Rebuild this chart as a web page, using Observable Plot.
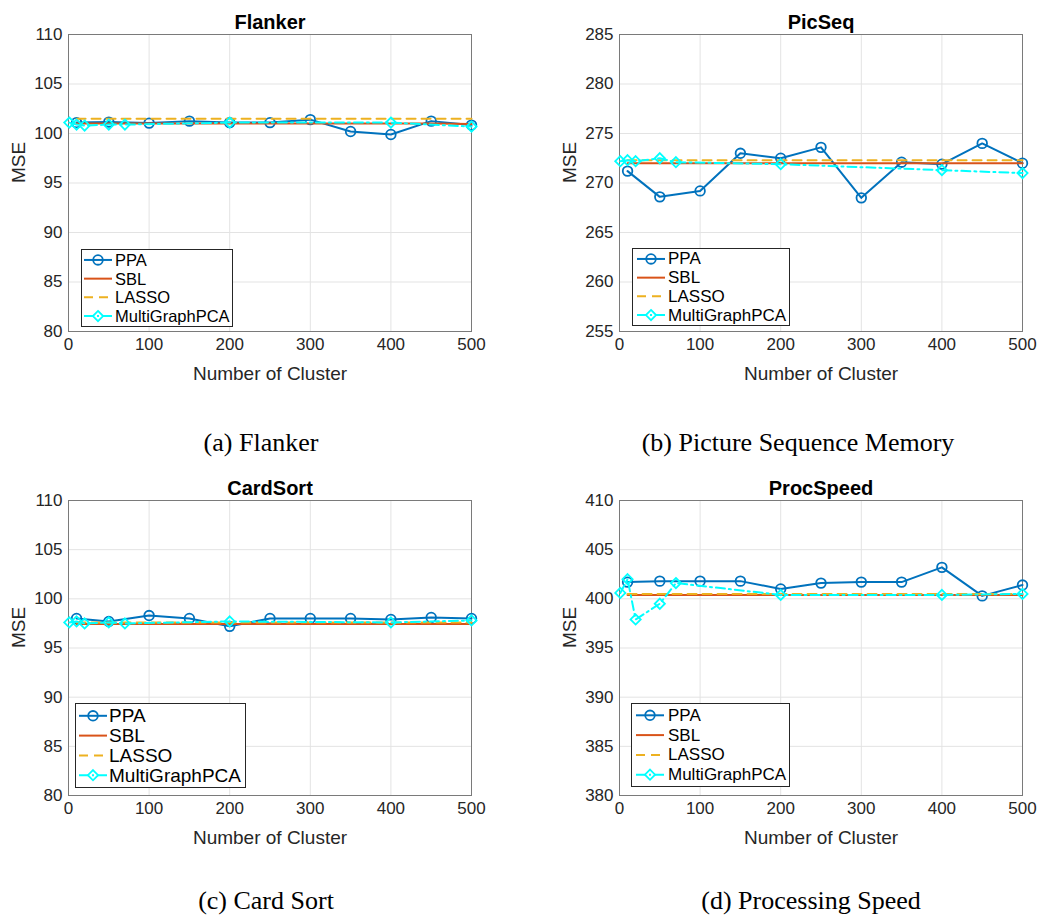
<!DOCTYPE html>
<html><head><meta charset="utf-8">
<script src="https://cdn.jsdelivr.net/npm/d3@7"></script>
<script src="https://cdn.jsdelivr.net/npm/@observablehq/plot@0.6"></script>
<style>
html,body{margin:0;padding:0;background:#fff;}
#fig{position:relative;width:1037px;height:918px;overflow:hidden;background:#fff;}
.panel,.legend{position:absolute;}
</style></head><body><div id="fig"></div>
<script>
// ---- data ----
const xTicks = [0, 100, 200, 300, 400, 500];
const ppaX = [10, 50, 100, 150, 200, 250, 300, 350, 400, 450, 500];
const mgX = [1, 10, 20, 50, 70, 200, 400, 500];
const seriesNames = ["PPA", "SBL", "LASSO", "MultiGraphPCA"];
const titles = ["Flanker", "PicSeq", "CardSort", "ProcSpeed"];
const captions = ["(a) Flanker", "(b) Picture Sequence Memory", "(c) Card Sort", "(d) Processing Speed"];
const xLabel = "Number of Cluster";
const yLabel = "MSE";

const flankerTicks = [80, 85, 90, 95, 100, 105, 110];
const flankerPPA = [101.1, 101.15, 101.05, 101.25, 101.1, 101.1, 101.4, 100.2, 99.9, 101.25, 100.85];
const flankerSBL = [101.0, 101.0, 101.0, 101.0, 101.0, 101.0, 101.0, 101.0, 101.0, 101.0, 100.95];
const flankerLASSO = [101.5, 101.5, 101.5, 101.5, 101.5, 101.5, 101.5, 101.5, 101.5, 101.5, 101.5];
const flankerMG = [101.1, 100.9, 100.8, 100.9, 100.9, 101.1, 101.1, 100.7];

const picseqTicks = [255, 260, 265, 270, 275, 280, 285];
const picseqPPA = [271.2, 268.6, 269.2, 273.0, 272.5, 273.6, 268.5, 272.1, 271.9, 274.0, 272.0];
const picseqSBL = [272.0, 272.0, 272.0, 272.0, 272.0, 272.0, 272.0, 272.0, 272.0, 272.0, 272.0];
const picseqLASSO = [272.3, 272.3, 272.3, 272.3, 272.3, 272.3, 272.3, 272.3, 272.3, 272.3, 272.3];
const picseqMG = [272.2, 272.3, 272.2, 272.5, 272.1, 271.9, 271.3, 271.0];

const cardTicks = [80, 85, 90, 95, 100, 105, 110];
const cardPPA = [98.0, 97.7, 98.3, 98.0, 97.2, 98.0, 98.0, 98.0, 97.9, 98.1, 98.0];
const cardSBL = [97.45, 97.45, 97.45, 97.45, 97.45, 97.45, 97.45, 97.45, 97.45, 97.45, 97.45];
const cardLASSO = [97.6, 97.6, 97.6, 97.6, 97.6, 97.6, 97.6, 97.6, 97.6, 97.6, 97.6];
const cardMG = [97.6, 97.7, 97.5, 97.6, 97.5, 97.7, 97.6, 97.8];

const procTicks = [380, 385, 390, 395, 400, 405, 410];
const procPPA = [401.7, 401.8, 401.8, 401.8, 401.0, 401.6, 401.7, 401.7, 403.2, 400.3, 401.4];
const procSBL = [400.4, 400.4, 400.4, 400.4, 400.4, 400.4, 400.4, 400.4, 400.4, 400.4, 400.4];
const procLASSO = [400.5, 400.5, 400.5, 400.5, 400.5, 400.5, 400.5, 400.5, 400.5, 400.5, 400.5];
const procMG = [400.6, 402.0, 397.9, 399.5, 401.6, 400.4, 400.4, 400.5];

// ---- styles ----
const COLORS = {PPA: "#0072BD", SBL: "#D95319", LASSO: "#EDB120", MG: "#00FFFF"};
const SANS = "'Liberation Sans', Arial, Helvetica, sans-serif";
const SERIF = "'Liberation Serif', 'Times New Roman', serif";

const panels = [
  {ticks: flankerTicks, ppa: flankerPPA, sbl: flankerSBL, lasso: flankerLASSO, mg: flankerMG,
   left: 0, top: 0, width: 518, mL: 68, mR: 47, mT: 34, mB: 128, capDx: -9, capDy: 111,
   legend: {left: 81, top: 249, w: 152, h: 78, fs: 16.5, rowH: 18.7, s0: 3, s1: 31, tx: 34}},
  {ticks: picseqTicks, ppa: picseqPPA, sbl: picseqSBL, lasso: picseqLASSO, mg: picseqMG,
   left: 518, top: 0, width: 519, mL: 101, mR: 15, mT: 34, mB: 128, capDx: -23, capDy: 111,
   legend: {left: 632, top: 248, w: 158, h: 78, fs: 17, rowH: 18.7, s0: 5, s1: 33, tx: 36}},
  {ticks: cardTicks, ppa: cardPPA, sbl: cardSBL, lasso: cardLASSO, mg: cardMG,
   left: 0, top: 459, width: 518, mL: 68, mR: 47, mT: 41, mB: 123, capDx: -4, capDy: 105,
   legend: {left: 75, top: 703, w: 171, h: 85, fs: 19, rowH: 19.8, s0: 4, s1: 32, tx: 34}},
  {ticks: procTicks, ppa: procPPA, sbl: procSBL, lasso: procLASSO, mg: procMG,
   left: 518, top: 459, width: 519, mL: 101, mR: 15, mT: 41, mB: 123, capDx: -10, capDy: 105,
   legend: {left: 631, top: 703, w: 159, h: 84, fs: 17, rowH: 19.8, s0: 5, s1: 33, tx: 37}}
];

const fig = document.getElementById("fig");

panels.forEach((p, i) => {
  const ppaRows = ppaX.map((x, j) => ({x, y: p.ppa[j]}));
  const sblRows = ppaX.map((x, j) => ({x, y: p.sbl[j]}));
  const lassoRows = ppaX.map((x, j) => ({x, y: p.lasso[j]}));
  const mgRows = mgX.map((x, j) => ({x, y: p.mg[j]}));
  const yDomain = [p.ticks[0], p.ticks[p.ticks.length - 1]];
  const chart = Plot.plot({
    width: p.width, height: 459,
    marginLeft: p.mL, marginRight: p.mR, marginTop: p.mT, marginBottom: p.mB,
    style: {fontFamily: SANS, fontSize: "17px", color: "#262626", background: "white", overflow: "visible"},
    x: {domain: [0, 500]},
    y: {domain: yDomain},
    marks: [
      Plot.gridX(xTicks, {stroke: "#e3e3e3", strokeOpacity: 1, strokeWidth: 1}),
      Plot.gridY(p.ticks, {stroke: "#e3e3e3", strokeOpacity: 1, strokeWidth: 1}),
      Plot.frame({stroke: "#7a7a7a", strokeWidth: 1}),
      Plot.axisX(xTicks, {tickSize: 0, tickPadding: 6, label: null, fontSize: 17, fill: "#262626"}),
      Plot.axisY(p.ticks, {tickSize: 0, tickPadding: 6, label: null, fontSize: 17, fill: "#262626"}),
      Plot.line(ppaRows, {x: "x", y: "y", stroke: COLORS.PPA, strokeWidth: 2}),
      Plot.dot(ppaRows, {x: "x", y: "y", r: 4.8, stroke: COLORS.PPA, strokeWidth: 1.8, fill: "none"}),
      Plot.line(sblRows, {x: "x", y: "y", stroke: COLORS.SBL, strokeWidth: 2}),
      Plot.line(lassoRows, {x: "x", y: "y", stroke: COLORS.LASSO, strokeWidth: 2, strokeDasharray: "9,6"}),
      Plot.line(mgRows, {x: "x", y: "y", stroke: COLORS.MG, strokeWidth: 2, strokeDasharray: "9,4,2,4"}),
      Plot.dot(mgRows, {x: "x", y: "y", symbol: "diamond2", r: 4.6, stroke: COLORS.MG, strokeWidth: 1.8, fill: "none"}),
      Plot.text([titles[i]], {text: d => d, frameAnchor: "top", lineAnchor: "bottom", dy: -6, fontWeight: "bold", fontSize: 20, fill: "#000"}),
      Plot.text([xLabel], {text: d => d, frameAnchor: "bottom", lineAnchor: "middle", dy: 42, fontSize: 19, fill: "#262626"}),
      Plot.text([yLabel], {text: d => d, frameAnchor: "left", rotate: -90, dx: -50, fontSize: 19, fill: "#262626"}),
      Plot.text([captions[i]], {text: d => d, frameAnchor: "bottom", lineAnchor: "middle", dy: p.capDy, dx: p.capDx, fontSize: 26, fontFamily: SERIF, fill: "#000"})
    ]
  });
  const wrap = document.createElement("div");
  wrap.className = "panel";
  wrap.style.left = p.left + "px";
  wrap.style.top = p.top + "px";
  wrap.appendChild(chart);
  fig.appendChild(wrap);

  // legend box
  const L = p.legend;
  const ns = "http://www.w3.org/2000/svg";
  const div = document.createElement("div");
  div.className = "legend";
  div.style.left = L.left + "px";
  div.style.top = L.top + "px";
  const svg = document.createElementNS(ns, "svg");
  svg.setAttribute("width", L.w + 1);
  svg.setAttribute("height", L.h + 1);
  const el = (tag, attrs) => { const e = document.createElementNS(ns, tag); for (const k in attrs) e.setAttribute(k, attrs[k]); svg.appendChild(e); return e; };
  el("rect", {x: 0.5, y: 0.5, width: L.w - 1, height: L.h - 1, fill: "white", stroke: "#262626", "stroke-width": 1});
  const y0 = (L.h - 3 * L.rowH) / 2;
  const styles = [
    {c: COLORS.PPA, dash: null, marker: "circle"},
    {c: COLORS.SBL, dash: null, marker: null},
    {c: COLORS.LASSO, dash: "9,6", marker: null},
    {c: COLORS.MG, dash: "9,4,2,4", marker: "diamond"}
  ];
  seriesNames.forEach((name, k) => {
    const y = y0 + k * L.rowH;
    const st = styles[k];
    const ln = el("line", {x1: L.s0, x2: L.s1, y1: y, y2: y, stroke: st.c, "stroke-width": 2});
    if (st.dash) ln.setAttribute("stroke-dasharray", st.dash);
    const mx = (L.s0 + L.s1) / 2;
    if (st.marker === "circle") el("circle", {cx: mx, cy: y, r: 4.8, fill: "none", stroke: st.c, "stroke-width": 1.8});
    if (st.marker === "diamond") el("path", {d: `M${mx},${y - 5.1}L${mx + 5.1},${y}L${mx},${y + 5.1}L${mx - 5.1},${y}Z`, fill: "none", stroke: st.c, "stroke-width": 1.8});
    const t = el("text", {x: L.tx, y: y, "dominant-baseline": "central", "font-family": SANS, "font-size": L.fs, fill: "#000"});
    t.textContent = name;
  });
  div.appendChild(svg);
  fig.appendChild(div);
});
</script>
</body></html>
